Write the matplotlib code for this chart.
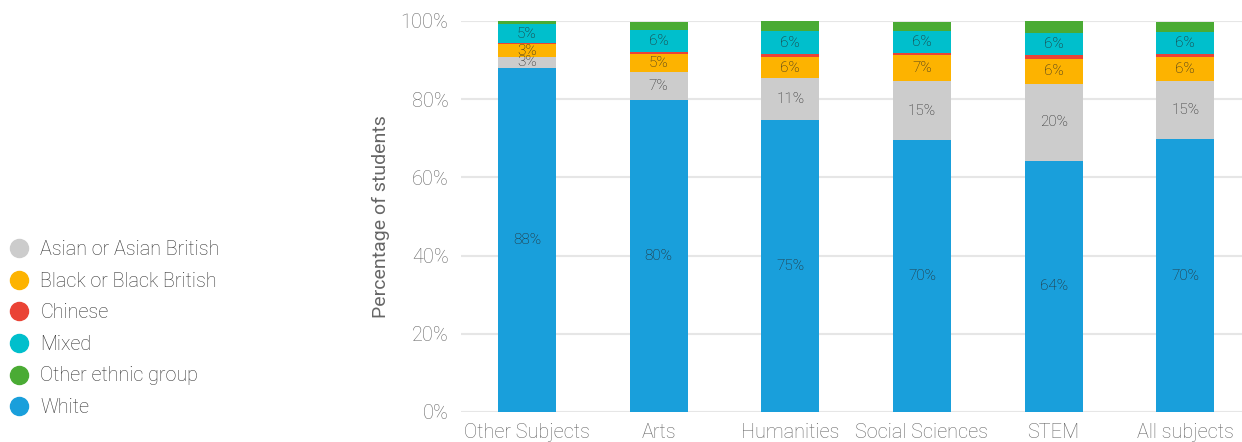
import numpy as np
import matplotlib
matplotlib.use('Agg')
import matplotlib.pyplot as plt
from matplotlib.lines import Line2D

plt.rcParams['font.family'] = ['Roboto', 'DejaVu Sans']
plt.rcParams['font.weight'] = 'light'

# Share of students by ethnic group within each subject area (%)
subjects = ['Other Subjects', 'Arts', 'Humanities', 'Social Sciences', 'STEM', 'All subjects']
white = [88.1, 79.8, 74.6, 69.6, 64.3, 69.8]
asian = [2.6, 7.2, 10.7, 15.0, 19.6, 14.8]
black = [3.4, 4.6, 5.6, 6.8, 6.4, 6.1]
chinese = [0.3, 0.5, 0.6, 0.5, 1.0, 0.8]
mixed = [4.8, 5.7, 5.9, 5.6, 5.6, 5.6]
other = [1.1, 2.0, 2.5, 2.3, 3.1, 2.6]

groups = ['Asian or Asian British', 'Black or Black British', 'Chinese', 'Mixed',
          'Other ethnic group', 'White']
colors = {'Asian or Asian British': '#cccccc', 'Black or Black British': '#fdb300',
          'Chinese': '#ea4335', 'Mixed': '#00bfcc', 'Other ethnic group': '#4aab34',
          'White': '#199fdb'}

# stacking order from the bottom up, and which segments get a value label
stack = [('White', white, True), ('Asian or Asian British', asian, True),
         ('Black or Black British', black, True), ('Chinese', chinese, False),
         ('Mixed', mixed, True), ('Other ethnic group', other, False)]

fig = plt.figure(figsize=(12.42, 4.42), dpi=100)
ax = fig.add_axes([0.3712, 0.0679, 0.6288, 0.8846])

x = np.arange(len(subjects))
bottom = np.zeros(len(subjects))
for name, vals, show in stack:
    vals = np.array(vals)
    ax.bar(x, vals, bottom=bottom, width=0.44, color=colors[name], zorder=3)
    if show:
        for xi, b, v in zip(x, bottom, vals):
            ax.text(xi, b + v / 2, f"{v:.0f}%", ha='center', va='center',
                    fontsize=11, color='#262626', zorder=4)
    bottom += vals

ax.set_xlim(-0.5, 5.43)
ax.set_ylim(0, 100)
ax.set_yticks(np.arange(0, 101, 20))
ax.set_yticklabels([f"{t}%" for t in range(0, 101, 20)])
ax.set_xticks(x)
ax.set_xticklabels(subjects)
ax.yaxis.grid(True, color='#e6e6e6', linewidth=1.5, zorder=0)
for s in ax.spines.values():
    s.set_visible(False)
ax.tick_params(axis='y', length=0, labelsize=14.3, labelcolor='#666666', pad=9)
ax.tick_params(axis='x', length=0, labelsize=14.3, labelcolor='#666666', pad=8)
ax.set_ylabel('Percentage of students', fontsize=14, color='#666666', labelpad=8)

handles = [Line2D([0], [0], marker='o', linestyle='', markersize=13,
                  markerfacecolor=colors[g], markeredgecolor=colors[g]) for g in groups]
fig.legend(handles, groups, loc='upper left', bbox_to_anchor=(0.0, 0.475),
           frameon=False, fontsize=14.2, labelcolor='#333333', handletextpad=0.55,
           labelspacing=0.64, handlelength=1.1, borderaxespad=0)

fig.savefig('out.png', dpi=100)
